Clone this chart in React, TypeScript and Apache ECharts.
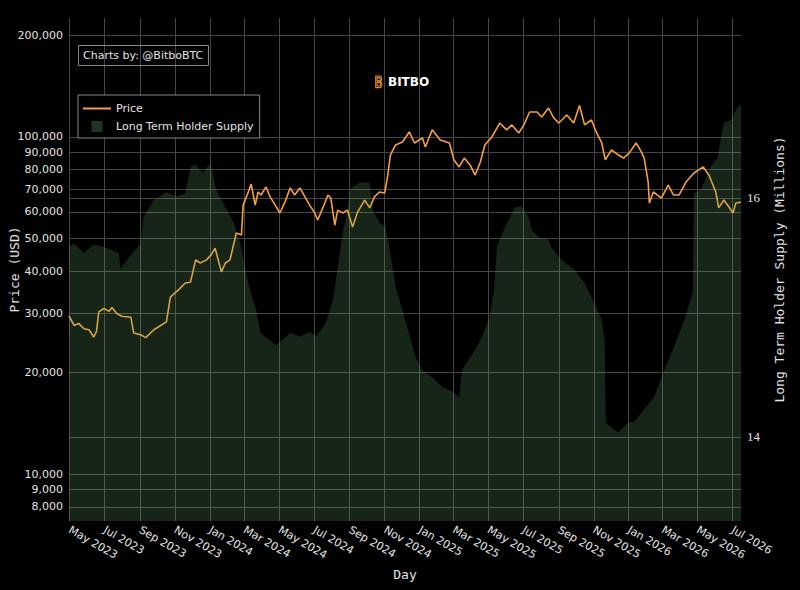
import React, { useEffect, useRef } from "react";
import * as echarts from "echarts";

const priceDates = [
  "2023-04-30","2023-05-03","2023-05-09","2023-05-17","2023-05-26","2023-06-04","2023-06-09","2023-06-12","2023-06-17","2023-06-21",
  "2023-06-30","2023-07-09","2023-07-14","2023-07-22","2023-07-31","2023-08-16","2023-08-21","2023-09-02","2023-09-11","2023-09-25",
  "2023-10-07","2023-10-17","2023-10-24","2023-11-07","2023-11-19","2023-11-28","2023-12-07","2023-12-15","2023-12-26","2024-01-03",
  "2024-01-10","2024-01-21","2024-01-28","2024-02-05","2024-02-16","2024-02-25","2024-02-28","2024-03-08","2024-03-13","2024-03-20",
  "2024-03-25","2024-03-30","2024-04-08","2024-04-15","2024-04-24","2024-05-02","2024-05-11","2024-05-20","2024-05-28","2024-06-06",
  "2024-06-15","2024-06-23","2024-07-02","2024-07-07","2024-07-16","2024-07-25","2024-07-30","2024-08-06","2024-08-11","2024-08-20",
  "2024-08-28","2024-09-06","2024-09-15","2024-09-27","2024-10-06","2024-10-14","2024-10-23","2024-11-01","2024-11-06","2024-11-11",
  "2024-11-20","2024-12-02","2024-12-14","2024-12-23","2025-01-06","2025-01-11","2025-01-23","2025-02-06","2025-02-22","2025-03-02",
  "2025-03-11","2025-03-20","2025-03-30","2025-04-08","2025-04-17","2025-04-25","2025-05-07","2025-05-21","2025-06-02","2025-06-11",
  "2025-06-23","2025-07-02","2025-07-12","2025-07-25","2025-08-02","2025-08-14","2025-08-23","2025-09-01","2025-09-15","2025-09-27",
  "2025-10-07","2025-10-16","2025-10-28","2025-11-06","2025-11-15","2025-11-21","2025-12-02","2025-12-14","2025-12-23","2026-01-02",
  "2026-01-14","2026-01-23","2026-01-28","2026-02-04","2026-02-06","2026-02-13","2026-02-27","2026-03-11","2026-03-20","2026-03-30",
  "2026-04-11","2026-04-25","2026-05-11","2026-05-21","2026-06-02","2026-06-07","2026-06-16","2026-06-25","2026-07-02","2026-07-07",
  "2026-07-16",
];
const priceValues = [
  29500, 28800, 27600, 28000, 27000, 26800, 26000, 25500, 26500, 30300,
  31000, 30400, 31200, 30000, 29400, 29200, 26200, 25900, 25400, 26800,
  27600, 28300, 33500, 35200, 36900, 37100, 43200, 42300, 43200, 44700,
  46800, 39800, 42300, 43200, 51900, 51200, 62800, 68700, 72500, 62800,
  68700, 67300, 71100, 66400, 62800, 59500, 64100, 70600, 67300, 70600,
  66400, 62800, 59500, 56700, 61600, 67300, 65900, 54800, 60700, 59500,
  60700, 54100, 60000, 65000, 61600, 66400, 68700, 68200, 76100, 88400,
  94700, 96600, 103500, 96000, 99300, 93400, 105000, 98000, 96000, 85500,
  81500, 86600, 82600, 77100, 84300, 94700, 100000, 110000, 105000, 108600,
  102800, 108600, 118600, 118600, 114600, 121900, 113900, 110000, 116200, 110000,
  124000, 108600, 112300, 102800, 96000, 85500, 91500, 88400, 86600, 89700,
  96000, 90300, 86600, 73500, 63700, 68700, 65900, 72000, 67300, 67300,
  73500, 78200, 81500, 77100, 68700, 61600, 65000, 62000, 59500, 63700,
  64100,
];

const supplyDates = [
  "2023-04-30","2023-05-09","2023-05-26","2023-06-12","2023-06-30","2023-07-26","2023-07-29","2023-08-09","2023-09-02","2023-09-07",
  "2023-09-25","2023-10-17","2023-11-04","2023-11-19","2023-11-28","2023-12-07","2023-12-20","2024-01-02","2024-01-12","2024-01-24",
  "2024-02-11","2024-02-23","2024-03-03","2024-03-12","2024-03-22","2024-03-29","2024-04-26","2024-05-20","2024-06-06","2024-06-23",
  "2024-07-04","2024-07-21","2024-08-03","2024-08-11","2024-08-20","2024-08-28","2024-09-02","2024-09-18","2024-10-06","2024-10-11",
  "2024-10-23","2024-11-02","2024-11-09","2024-11-20","2024-12-02","2024-12-14","2024-12-25","2025-01-06","2025-01-23","2025-02-09",
  "2025-02-27","2025-03-11","2025-03-16","2025-04-08","2025-04-20","2025-05-02","2025-05-11","2025-05-16","2025-05-30","2025-06-16",
  "2025-06-28","2025-07-10","2025-07-16","2025-07-28","2025-08-14","2025-08-19","2025-09-06","2025-09-28","2025-10-16","2025-11-02",
  "2025-11-15","2025-11-20","2025-11-22","2025-12-02","2025-12-14","2025-12-31","2026-01-11","2026-01-23","2026-02-14","2026-03-04",
  "2026-03-21","2026-04-08","2026-04-20","2026-04-23","2026-04-25","2026-05-07","2026-05-24","2026-06-05","2026-06-16","2026-06-28",
  "2026-07-10","2026-07-16",
];
const supplyValues = [
  15.59, 15.62, 15.54, 15.61, 15.59, 15.54, 15.41, 15.48, 15.62, 15.84,
  15.98, 16.05, 16.01, 16.04, 16.26, 16.28, 16.21, 16.29, 16.07, 15.96,
  15.8, 15.62, 15.4, 15.21, 15.06, 14.87, 14.77, 14.87, 14.84, 14.88,
  14.84, 14.95, 15.15, 15.42, 15.71, 15.9, 16.08, 16.13, 16.13, 15.9,
  15.79, 15.76, 15.59, 15.26, 15.06, 14.86, 14.67, 14.56, 14.5, 14.42,
  14.38, 14.33, 14.56, 14.73, 14.84, 14.98, 15.23, 15.59, 15.76, 15.92,
  15.93, 15.84, 15.73, 15.67, 15.65, 15.59, 15.48, 15.4, 15.29, 15.12,
  14.98, 14.81, 14.12, 14.08, 14.04, 14.12, 14.13, 14.2, 14.33, 14.56,
  14.75, 14.98, 15.17, 15.23, 16.04, 16.07, 16.26, 16.34, 16.63, 16.65,
  16.76, 16.78,
];

const dayRange = ["2023-04-30", "2026-07-16"];
const monthTicks = [
  "2023-05-01","2023-07-01","2023-09-01","2023-11-01",
  "2024-01-01","2024-03-01","2024-05-01","2024-07-01","2024-09-01","2024-11-01",
  "2025-01-01","2025-03-01","2025-05-01","2025-07-01","2025-09-01","2025-11-01",
  "2026-01-01","2026-03-01","2026-05-01","2026-07-01",
];
const priceTicks = [8000, 9000, 10000, 20000, 30000, 40000, 50000, 60000, 70000, 80000, 90000, 100000, 200000];
const supplyTicks = [14, 16];
const monthNames = ["Jan","Feb","Mar","Apr","May","Jun","Jul","Aug","Sep","Oct","Nov","Dec"];

const ORANGE = "#f4a040";
const FILL = "rgba(100,172,107,0.31)";
const GRID = "#454545";
const TEXT = "#e2e2e2";

const LOGO_D =
  "M1,0 L6,0 C8.5,0 9.5,1.6 9.5,3.6 C9.5,5 8.8,6.2 7.8,6.8 C9.2,7.4 10,8.8 10,10.4 C10,13 8.5,14.5 6,14.5 L1,14.5 Z " +
  "M3,2 L3,6 L6,6 C7,6 7.5,5 7.5,4 C7.5,3 7,2 6,2 Z M3,8 L3,12.5 L6,12.5 C7.3,12.5 8,11.5 8,10.2 C8,9 7.3,8 6,8 Z";

let logoRegistered = false;
const ts = (s: string) => Date.parse(s + "T00:00:00Z");

export default function App() {
  const ref = useRef<HTMLDivElement>(null);

  useEffect(() => {
    if (!ref.current) return;
    if (!logoRegistered) {
      echarts.graphic.registerShape("logo", echarts.graphic.extendPath(LOGO_D, {}) as any);
      logoRegistered = true;
    }
    const chart = echarts.init(ref.current, null, { renderer: "svg" });

    const priceData = priceDates.map((d, i) => [ts(d), priceValues[i]]);
    const supplyData = supplyDates.map((d, i) => [ts(d), supplyValues[i]]);
    const tickTimes = monthTicks.map(ts);

    chart.setOption({
      animation: false,
      backgroundColor: "#000",
      title: {
        text: "Charts by: @BitboBTC",
        left: 78,
        top: 45,
        padding: [5, 5, 5, 5],
        borderColor: "#888",
        borderWidth: 1,
        textStyle: { color: TEXT, fontSize: 11, fontWeight: "normal", fontFamily: "DejaVu Sans" },
      },
      legend: {
        orient: "vertical",
        left: 78,
        top: 95,
        padding: [8, 6, 6, 5],
        itemGap: 7,
        itemWidth: 28,
        itemHeight: 11,
        borderColor: "#888",
        borderWidth: 1,
        backgroundColor: "#000",
        selectedMode: false,
        textStyle: { color: TEXT, fontSize: 11, fontFamily: "DejaVu Sans" },
        itemStyle: { borderWidth: 0 },
        data: [
          { name: "Price", icon: "path://M0,0L28,0L28,2L0,2Z", itemStyle: { color: ORANGE, borderWidth: 0 } },
          { name: "Long Term Holder Supply", icon: "path://M0,0L10,0L10,10L0,10Z", itemStyle: { color: FILL, borderWidth: 0 } },
        ],
      },
      grid: { left: 65, right: 59, top: 18, bottom: 69, containLabel: false },
      xAxis: {
        type: "value",
        min: ts(dayRange[0]),
        max: ts(dayRange[1]),
        name: "Day",
        nameLocation: "middle",
        nameGap: 47,
        nameTextStyle: { color: TEXT, fontSize: 13, fontFamily: "DejaVu Sans Mono", verticalAlign: "top" },
        axisLine: { show: false },
        axisTick: { show: false, customValues: tickTimes },
        axisLabel: {
          customValues: tickTimes,
          rotate: -30,
          margin: 8,
          color: TEXT,
          fontSize: 11,
          fontFamily: "DejaVu Sans",
          formatter: (v: number) => {
            const d = new Date(v);
            return monthNames[d.getUTCMonth()] + " " + d.getUTCFullYear();
          },
        },
        splitLine: { show: true, lineStyle: { color: GRID, width: 1 } },
      },
      yAxis: [
        {
          type: "log",
          logBase: 10,
          min: 7260,
          max: 225400,
          name: "Price (USD)",
          nameLocation: "middle",
          nameGap: 48,
          nameTextStyle: { color: TEXT, fontSize: 13, fontFamily: "DejaVu Sans Mono" },
          axisLine: { show: false },
          axisTick: { show: false },
          axisLabel: { show: false },
          splitLine: { show: false },
        },
        {
          type: "value",
          min: 13.297,
          max: 17.506,
          position: "right",
          name: "Long Term Holder Supply (Millions)",
          nameLocation: "middle",
          nameGap: 32,
          nameTextStyle: { color: TEXT, fontSize: 13, fontFamily: "DejaVu Sans Mono" },
          axisLine: { show: false },
          axisTick: { show: false, customValues: supplyTicks },
          axisLabel: {
            customValues: supplyTicks,
            color: TEXT,
            fontSize: 13,
            fontFamily: "Liberation Serif",
            margin: 6,
          },
          splitLine: { show: true, lineStyle: { color: GRID, width: 1 } },
        },
      ],
      series: [
        {
          name: "Price",
          type: "line",
          yAxisIndex: 0,
          z: 2,
          data: priceData,
          showSymbol: false,
          symbol: "none",
          lineStyle: { color: ORANGE, width: 1.6 },
          itemStyle: { color: ORANGE },
          silent: true,
          markLine: {
            silent: true,
            z: 1,
            symbol: ["none", "none"],
            animation: false,
            lineStyle: { color: GRID, width: 1, type: "solid" },
            label: {
              show: true,
              position: "start",
              distance: 6,
              color: TEXT,
              fontSize: 11,
              fontFamily: "DejaVu Sans",
              formatter: (p: any) => Number(p.value).toLocaleString("en-US"),
            },
            emphasis: { disabled: true },
            data: priceTicks.map((v) => ({ yAxis: v })),
          },
        },
        {
          name: "Long Term Holder Supply",
          type: "line",
          yAxisIndex: 1,
          z: 3,
          data: supplyData,
          showSymbol: false,
          symbol: "none",
          lineStyle: { width: 0, color: FILL },
          itemStyle: { color: FILL },
          areaStyle: { color: FILL, origin: "start" },
          silent: true,
        },
      ],
      graphic: [
        {
          type: "logo",
          x: 375,
          y: 76,
          scaleX: 0.7,
          scaleY: 0.8,
          style: { fill: "none", stroke: "#e8902a", lineWidth: 1.1, strokeNoScale: true },
          silent: true,
        },
        {
          type: "text",
          x: 388,
          y: 76,
          style: { text: "BITBO", fill: "#ffffff", fontSize: 12, fontWeight: "bold", fontFamily: "DejaVu Sans" },
          silent: true,
        },
      ],
    });

    return () => chart.dispose();
  }, []);

  return (
    <div
      ref={ref}
      style={{ position: "fixed", left: 0, top: 0, width: 800, height: 590, background: "#000" }}
    />
  );
}
